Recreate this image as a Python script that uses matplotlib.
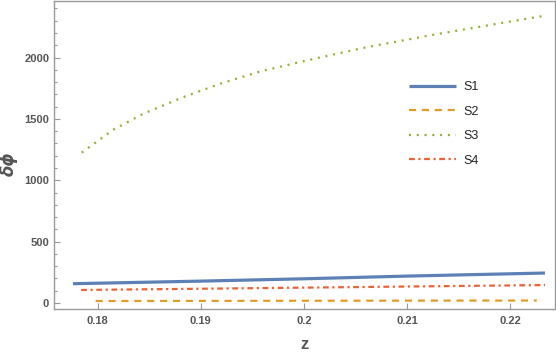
import numpy as np
import matplotlib
matplotlib.use('Agg')
import matplotlib.pyplot as plt
from matplotlib.ticker import MultipleLocator

# values
z1 = [0.1776, 0.19, 0.20, 0.21, 0.2234]
s1 = [157, 178, 197, 219, 244]

z2 = [0.1798, 0.19, 0.20, 0.21, 0.2226]
s2 = [16, 17, 18, 19, 20]

z3 = [0.17845, 0.18151, 0.18442, 0.18830, 0.19186, 0.19574, 0.20027,
      0.20609, 0.21255, 0.21902, 0.22306, 0.2234]
s3 = [1225, 1412, 1542, 1677, 1786, 1886, 1976, 2084, 2185, 2279, 2336, 2340]

z4 = [0.1784, 0.19, 0.20, 0.21, 0.2234]
s4 = [106, 116, 125, 134, 146]

xticks = [0.18, 0.19, 0.20, 0.21, 0.22]
xticklabels = ['0.18', '0.19', '0.2', '0.21', '0.22']
yticks = [0, 500, 1000, 1500, 2000]
names = ['S1', 'S2', 'S3', 'S4']

grey = '#999999'
labgrey = '#555555'
plt.rcParams['font.family'] = ['Liberation Sans', 'DejaVu Sans']

fig = plt.figure(figsize=(5.56, 3.52), dpi=100)
ax = fig.add_axes([0.0971, 0.1222, 0.9009, 0.8758])

ax.plot(z1, s1, color='#5E81B5', lw=2.3, solid_capstyle='butt', label=names[0])
ax.plot(z2, s2, color='#E19C24', lw=1.6, dashes=(3.2, 2.6), label=names[1])
ax.plot(z3, s3, color='#8FB032', lw=1.6, dashes=(0.9, 2.6), label=names[2])
ax.plot(z4, s4, color='#EB6235', lw=1.6, dashes=(2.6, 1.6, 1.0, 1.6), label=names[3])

ax.set_xlim(0.17576, 0.22436)
ax.set_ylim(-49, 2463)
ax.set_xticks(xticks)
ax.set_xticklabels(xticklabels)
ax.set_yticks(yticks)
ax.yaxis.set_minor_locator(MultipleLocator(100))

for sp in ax.spines.values():
    sp.set_color(grey)
    sp.set_linewidth(1.0)

ax.tick_params(axis='both', which='both', direction='in', color=grey,
               labelcolor=labgrey, labelsize=8)
ax.tick_params(axis='both', which='major', length=4, width=0.8)
ax.tick_params(axis='y', which='minor', length=2.5, width=0.8)
ax.tick_params(axis='x', pad=5)
for lab in ax.get_xticklabels() + ax.get_yticklabels():
    lab.set_fontweight('bold')

ax.set_xlabel('z', fontsize=12, fontweight='bold', color=labgrey, labelpad=8)
ax.set_ylabel('δϕ', fontsize=12, fontweight='bold', fontstyle='italic',
              color=labgrey, family=['DejaVu Sans'])
ax.yaxis.set_label_coords(-0.072, 0.47)

leg = ax.legend(loc='upper left', bbox_to_anchor=(0.687, 0.775), frameon=False,
                fontsize=9, handlelength=3.7, handletextpad=0.6, labelspacing=1.0)
for t in leg.get_texts():
    t.set_color('#222222')

fig.savefig('out.png', dpi=100)
